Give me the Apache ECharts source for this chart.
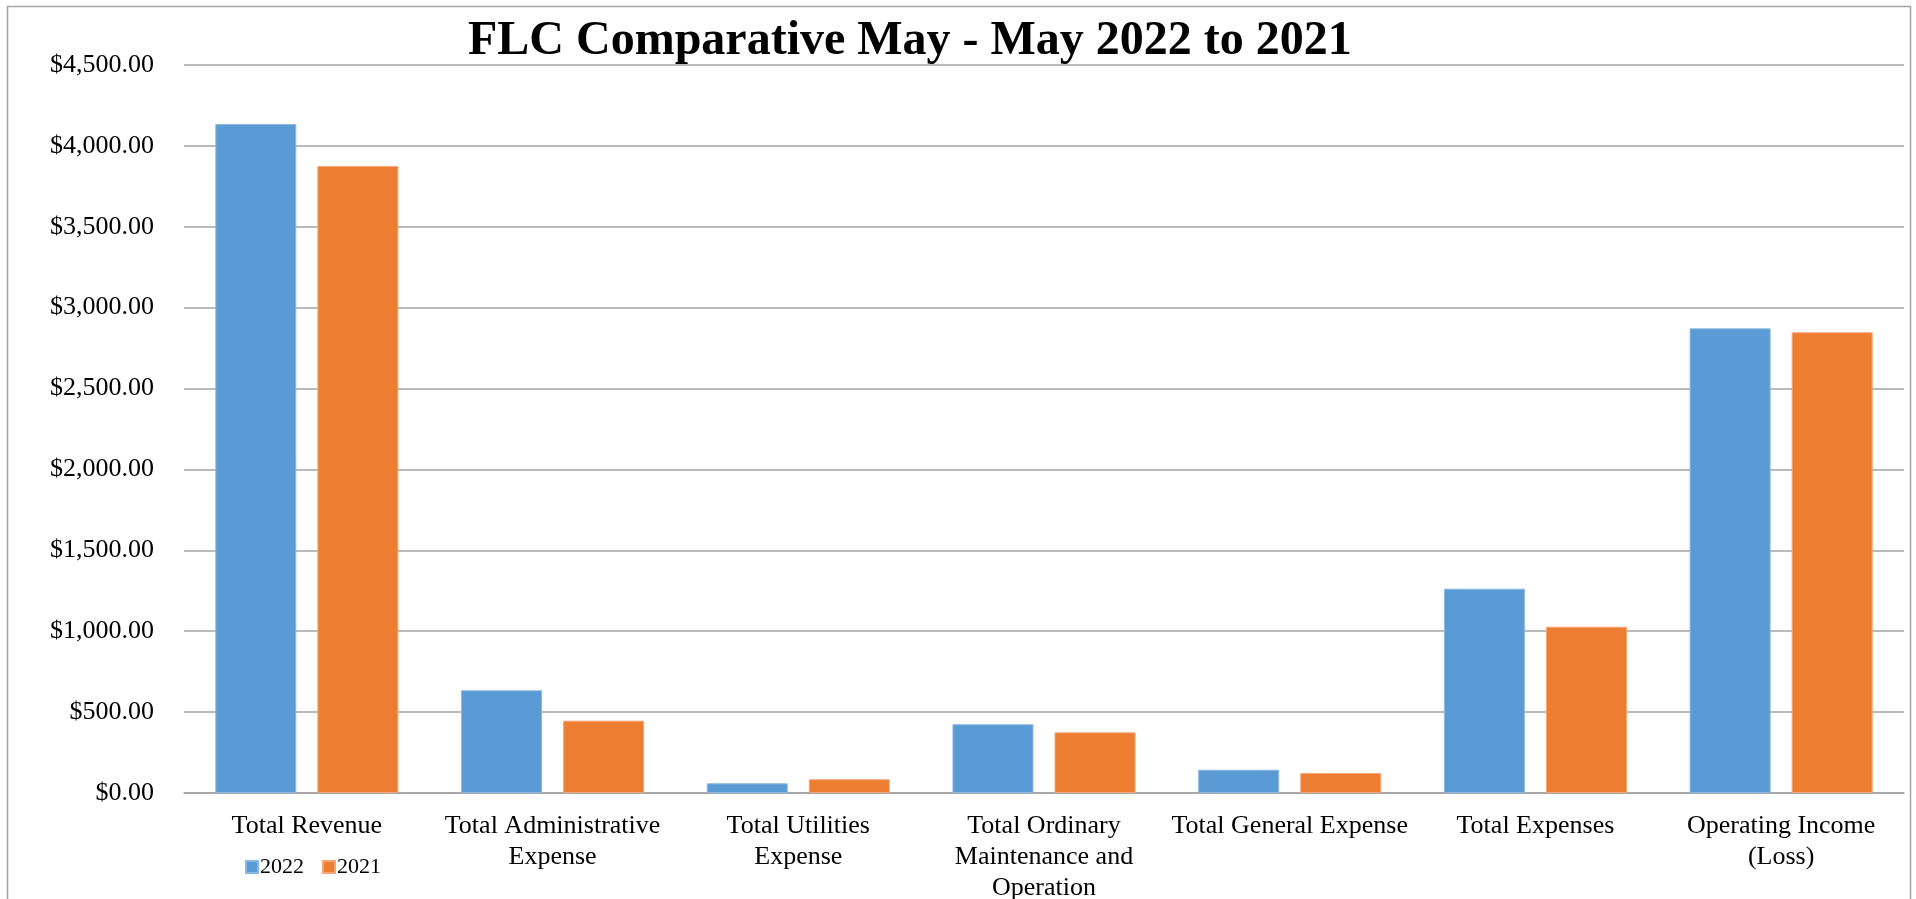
<!DOCTYPE html>
<html>
<head>
<meta charset="utf-8">
<title>FLC Comparative May - May 2022 to 2021</title>
<script src="https://cdn.jsdelivr.net/npm/echarts@6/dist/echarts.min.js"></script>
<style>
  html, body { margin: 0; padding: 0; background: #ffffff; }
  #chart { width: 1916px; height: 899px; }
</style>
</head>
<body>
<div id="chart"></div>
<script>
// Line items of the income statement (line breaks follow the printed wrapping)
const categories = [
  'Total Revenue',
  'Total Administrative\nExpense',
  'Total Utilities\nExpense',
  'Total Ordinary\nMaintenance and\nOperation',
  'Total General Expense',
  'Total Expenses',
  'Operating Income\n(Loss)'
];

// Amounts in dollars for each year
const values2022 = [4135, 635, 60, 425, 144, 1263, 2872];
const values2021 = [3876, 447, 85, 375, 124, 1028, 2848];

const seriesNames = ['2022', '2021'];
const titleText = 'FLC Comparative May - May 2022 to 2021';

const serif = "'Liberation Serif', 'Times New Roman', serif";
const gridGray = '#a3a3a3';

function money(v) {
  return '$' + v.toLocaleString('en-US', { minimumFractionDigits: 2, maximumFractionDigits: 2 });
}

const chart = echarts.init(document.getElementById('chart'), null, { renderer: 'canvas' });

chart.setOption({
  animation: false,
  backgroundColor: '#ffffff',
  title: {
    text: titleText,
    left: 463,
    top: 13,
    textStyle: {
      fontFamily: serif,
      fontWeight: 'bold',
      fontSize: 48,
      color: '#000000'
    }
  },
  legend: {
    data: seriesNames,
    left: 240,
    top: 851,
    itemWidth: 12,
    itemHeight: 12,
    itemGap: 18,
    icon: 'rect',
    textStyle: { fontFamily: serif, fontSize: 22, color: '#000000', padding: [0, 0, 0, -3] }
  },
  graphic: [{
    type: 'rect',
    shape: { x: 7.5, y: 6.5, width: 1903, height: 1000 },
    style: { fill: 'none', stroke: gridGray, lineWidth: 1.5 },
    silent: true
  }],
  grid: {
    left: 184,
    right: 12,
    top: 65,
    bottom: 106,
    containLabel: false,
    outerBoundsMode: 'none'
  },
  xAxis: {
    type: 'category',
    data: categories,
    axisLine: { show: true, lineStyle: { color: gridGray, width: 1.5 } },
    axisTick: { show: false },
    axisLabel: {
      interval: 0,
      margin: 18,
      fontFamily: serif,
      fontSize: 26,
      lineHeight: 31,
      color: '#000000',
      align: 'center'
    }
  },
  yAxis: {
    type: 'value',
    min: 0,
    max: 4500,
    interval: 500,
    axisLine: { show: false },
    axisTick: { show: false },
    splitLine: { show: true, lineStyle: { color: gridGray, width: 1.5 } },
    axisLabel: {
      margin: 30,
      fontFamily: serif,
      fontSize: 26,
      color: '#000000',
      formatter: money
    }
  },
  series: [
    {
      name: seriesNames[0],
      type: 'bar',
      data: values2022,
      barWidth: 81,
      barGap: '26%',
      itemStyle: { color: '#5B9BD5', borderColor: '#8bb8e3', borderWidth: 1 }
    },
    {
      name: seriesNames[1],
      type: 'bar',
      data: values2021,
      barWidth: 81,
      barGap: '26%',
      itemStyle: { color: '#ED7D31', borderColor: '#f4a777', borderWidth: 1 }
    }
  ]
});
</script>
</body>
</html>
